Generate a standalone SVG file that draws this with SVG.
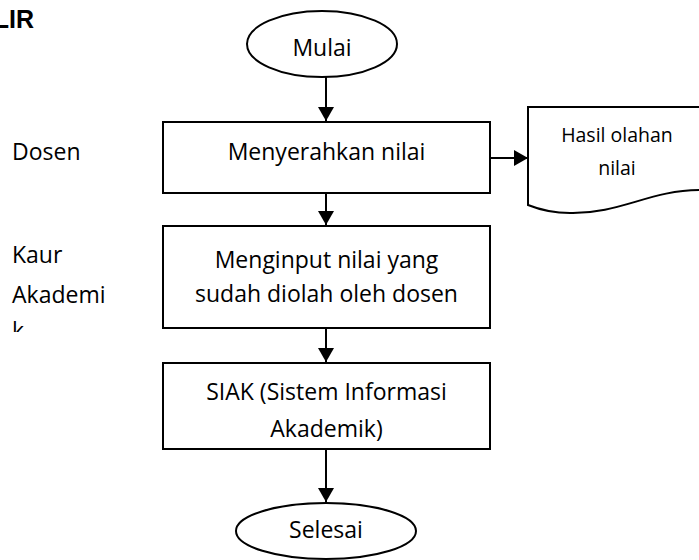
<svg xmlns="http://www.w3.org/2000/svg" width="699" height="560" viewBox="0 0 699 560">
  <style>
    .shape { fill: #ffffff; stroke: #000000; stroke-width: 2; }
    .conn { fill: none; stroke: #000000; stroke-width: 2; }
    .t { font-family: "Open Sans", "Noto Sans", sans-serif; font-size: 23px; fill: #000000; }
    .c { text-anchor: middle; }
    .s { font-size: 19.5px; }
    .title { font-family: "Liberation Sans", Arial, sans-serif; font-weight: bold; font-size: 25px; fill: #000000; }
  </style>
  <defs>
    <marker id="arrow" viewBox="0 0 14 16" refX="14" refY="8" markerWidth="14" markerHeight="16" markerUnits="userSpaceOnUse" orient="auto">
      <path d="M0,0 L14,8 L0,16 Z" fill="#000000"/>
    </marker>
    <clipPath id="laneClip">
      <rect x="0" y="230" width="160" height="102"/>
    </clipPath>
  </defs>

  <rect width="699" height="560" fill="#ffffff"/>

  <!-- heading, partly cut at the left edge -->
  <text class="title" x="34" y="28" text-anchor="end">LIR</text>

  <!-- lane labels -->
  <g id="lane-dosen">
    <text class="t" x="12" y="160">Dosen</text>
  </g>
  <g id="lane-kaur" clip-path="url(#laneClip)">
    <text class="t" x="12" y="263">Kaur</text>
    <text class="t" x="12" y="303">Akademi</text>
    <text class="t" x="12" y="339">k</text>
  </g>

  <!-- connectors -->
  <g id="connectors">
    <path class="conn" d="M326,77 L326,121" marker-end="url(#arrow)"/>
    <path class="conn" d="M490,158 L528,158" marker-end="url(#arrow)"/>
    <path class="conn" d="M326,193 L326,225" marker-end="url(#arrow)"/>
    <path class="conn" d="M326,328 L326,362" marker-end="url(#arrow)"/>
    <path class="conn" d="M326,449 L326,502" marker-end="url(#arrow)"/>
  </g>

  <g id="mulai">
    <ellipse class="shape" cx="322" cy="44" rx="75" ry="33"/>
    <text class="t c" x="322" y="56">Mulai</text>
  </g>

  <g id="menyerahkan">
    <rect class="shape" x="163" y="122" width="327" height="71"/>
    <text class="t c" x="326.5" y="160">Menyerahkan nilai</text>
  </g>

  <g id="hasil">
    <path class="shape" d="M528,107 L700,107 L700,190 C650,190 620,214 570,213 C550,213 538,209 528,205 Z"/>
    <text class="t s c" x="617" y="142">Hasil olahan</text>
    <text class="t s c" x="617" y="175">nilai</text>
  </g>

  <g id="menginput">
    <rect class="shape" x="163" y="226" width="327" height="102"/>
    <text class="t c" x="326.5" y="268">Menginput nilai yang</text>
    <text class="t c" x="326.5" y="302">sudah diolah oleh dosen</text>
  </g>

  <g id="siak">
    <rect class="shape" x="163" y="363" width="327" height="86"/>
    <text class="t c" x="326.5" y="400">SIAK (Sistem Informasi</text>
    <text class="t c" x="326.5" y="437">Akademik)</text>
  </g>

  <g id="selesai">
    <ellipse class="shape" cx="326" cy="531" rx="90" ry="28"/>
    <text class="t c" x="326" y="538">Selesai</text>
  </g>
</svg>
